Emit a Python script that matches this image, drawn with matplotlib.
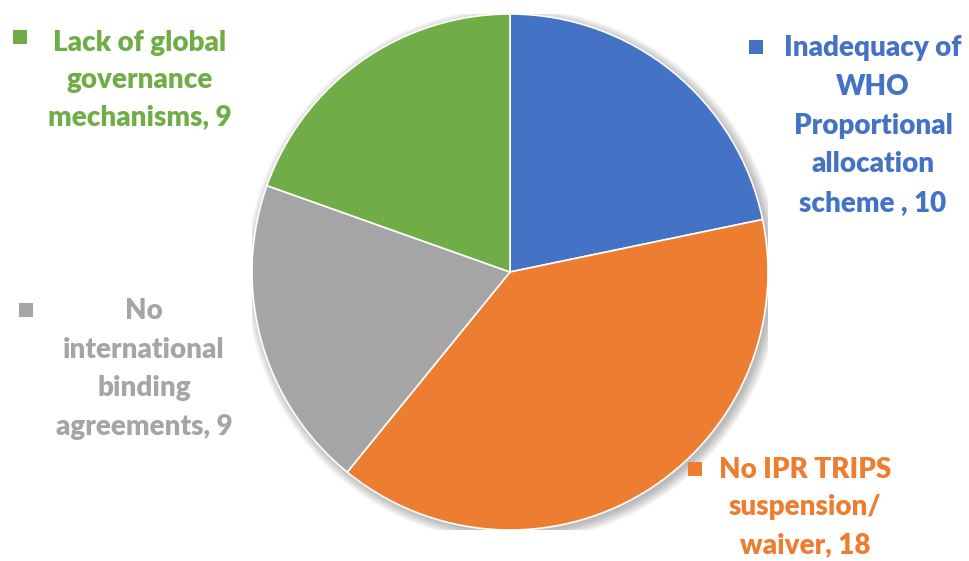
import matplotlib.pyplot as plt
from matplotlib.patches import Circle, Rectangle

# --- data ---
categories = ["Inadequacy of WHO Proportional allocation scheme",
              "No IPR TRIPS suspension/ waiver",
              "No international binding agreements",
              "Lack of global governance mechanisms"]
values = [10, 18, 9, 9]
colors = ["#4472C4", "#ED7D31", "#A5A5A5", "#70AD47"]

# label lines as shown in the chart (value appended from values)
label_lines = [
    ["Inadequacy of", "WHO", "Proportional", "allocation", "scheme , {}"],
    ["No IPR TRIPS", "suspension/", "waiver, {}"],
    ["No", "international", "binding", "agreements, {}"],
    ["Lack of global", "governance", "mechanisms, {}"],
]

W, H = 969, 561
fig = plt.figure(figsize=(W / 100, H / 100), dpi=100)
fig.patch.set_facecolor("white")

cx, cy, r = 510, H - 272, 258
ax = fig.add_axes([(cx - r) / W, (cy - r) / H, 2 * r / W, 2 * r / H])
ax.set_xlim(-1, 1)
ax.set_ylim(-1, 1)
ax.set_aspect("equal")
ax.axis("off")

# soft shadow
for k in range(8):
    ax.add_patch(Circle((0.012, -0.012), 1.0 + k * 0.005, color="black",
                        alpha=0.035, lw=0, zorder=0))

ax.pie(values, colors=colors, startangle=90, counterclock=False, radius=1.0,
       wedgeprops=dict(linewidth=1.2, edgecolor="white"))
ax.set_xlim(-1, 1)
ax.set_ylim(-1, 1)

font = dict(family="Lato", weight="heavy", size=20)

# (text center x, first line center y, line step, square x, square y) in pixels from top-left
label_pos = [
    (873, 48, 38.8, 749, 40),
    (805, 470, 37.5, 688, 462),
    (144, 311, 38.5, 19, 303),
    (140, 43, 37.0, 13, 30),
]

for lines, val, col, (tx, ty, dy, sx, sy) in zip(label_lines, values, colors, label_pos):
    for i, ln in enumerate(lines):
        fig.text(tx / W, (H - (ty + i * dy)) / H, ln.format(val), color=col,
                 ha="center", va="center", **font)
    fig.patches.append(Rectangle((sx / W, (H - sy - 14) / H), 14 / W, 14 / H,
                                 transform=fig.transFigure, color=col, lw=0))

fig.savefig("out.png", dpi=100)
